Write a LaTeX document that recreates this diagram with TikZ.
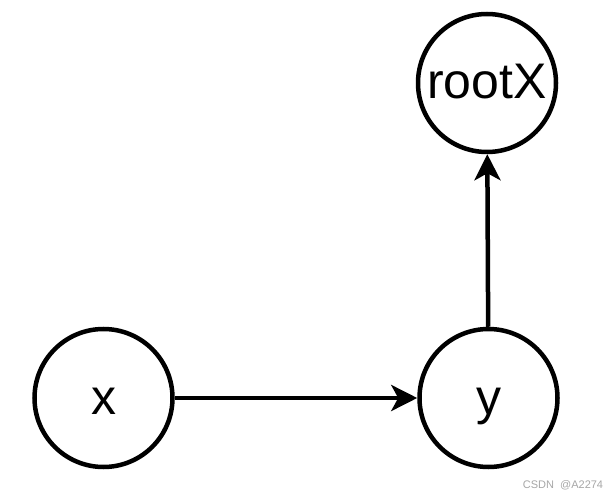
\documentclass[tikz,border=0pt]{standalone}
\usepackage{fontspec}
\setmainfont{Liberation Sans}
\usetikzlibrary{arrows.meta}
\begin{document}
\begin{tikzpicture}[x=1pt,y=-1pt,
  vnode/.style={draw=black,circle,line width=4.5pt,minimum size=138pt,inner sep=0pt,text height=32pt,text depth=0pt,font=\fontsize{50}{54}\selectfont},
  edge/.style={line width=4.5pt,-{Stealth[length=26pt,width=26pt,inset=7pt]}}]
\useasboundingbox (0,0) rectangle (608,497);
\node[vnode] (x) at (103.5,398) {x};
\node[vnode] (y) at (488.5,398) {y};
\node[vnode] (r) at (487,83) {rootX};
\draw[edge] (x) -- (y);
\draw[edge] (y) -- (r);
\node[text=black!35,font=\fontsize{11}{12}\selectfont] (wm) at (563,485) {CSDN \ @A2274};
\end{tikzpicture}
\end{document}
